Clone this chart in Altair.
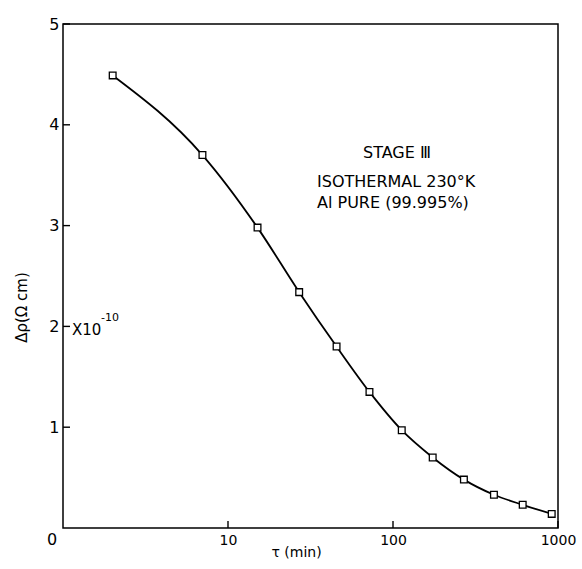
import altair as alt
import pandas as pd

# Data
tau_min = [2.0, 7.0, 15.1, 27.0, 45.5, 72.0, 113, 174, 269, 409, 611, 916]
delta_rho = [4.49, 3.70, 2.98, 2.34, 1.80, 1.35, 0.97, 0.70, 0.48, 0.33, 0.23, 0.14]

x_tick_values = [10, 100, 1000]
y_tick_values = [1, 2, 3, 4, 5]

stage_label = "STAGE Ⅲ"
annotation_line1 = "ISOTHERMAL 230°K"
annotation_line2 = "Al PURE (99.995%)"

FONT = "DejaVu Sans"
W, H = 495, 504

df = pd.DataFrame({"tau": tau_min, "rho": delta_rho})
xt = pd.DataFrame({"t": x_tick_values})
yt = pd.DataFrame({"v": y_tick_values})

xscale = alt.Scale(type="log", domain=[1, 1000], nice=False)
yscale = alt.Scale(domain=[0, 5], nice=False, zero=True)

x_enc = alt.X(
    "tau:Q",
    scale=xscale,
    axis=alt.Axis(
        values=x_tick_values,
        format="d",
        ticks=False,
        domain=False,
        grid=False,
        labelFont=FONT,
        labelFontSize=14,
        labelColor="black",
        labelPadding=5,
        labelFlush=False,
        title="τ (min)",
        titleFont=FONT,
        titleFontSize=14,
        titleFontWeight="normal",
        titleColor="black",
        titleX=233,
        titleY=24,
        titleBaseline="middle",
        titleAlign="center",
    ),
)
y_enc = alt.Y(
    "rho:Q",
    scale=yscale,
    axis=alt.Axis(
        values=y_tick_values,
        format="d",
        ticks=False,
        domain=False,
        grid=False,
        labelFont=FONT,
        labelFontSize=16,
        labelColor="black",
        labelPadding=4,
        title="Δρ(Ω cm)",
        titleFont=FONT,
        titleFontSize=15,
        titleFontWeight="normal",
        titleColor="black",
        titleAngle=270,
        titleX=-42,
        titleY=283,
        titleBaseline="middle",
        titleAlign="center",
    ),
)

line = alt.Chart(df).mark_line(
    color="black", strokeWidth=1.8, interpolate="monotone"
).encode(x=x_enc, y=y_enc)

points = alt.Chart(df).mark_point(
    shape="square", size=45, filled=True, fill="white", stroke="black", strokeWidth=1.3, opacity=1
).encode(x="tau:Q", y="rho:Q")

# inward-pointing tick marks
xticks = alt.Chart(xt).mark_rule(color="black", strokeWidth=1.4, opacity=1).encode(
    x="t:Q", y=alt.value(H - 7), y2=alt.value(H)
)
yticks = alt.Chart(yt).mark_rule(color="black", strokeWidth=1.4, opacity=1).encode(
    y="v:Q", x=alt.value(0), x2=alt.value(7)
)


def label(text, x, y, size, align="left"):
    return alt.Chart(pd.DataFrame({"s": [text]})).mark_text(
        font=FONT, fontSize=size, color="black", align=align, baseline="middle"
    ).encode(text="s:N", x=alt.value(x), y=alt.value(y))


zero_label = label("0", -11, 516, 16, "center")
x10 = label("X10", 9, 306, 15)
exp = label("-10", 38, 294, 11)
stage = label(stage_label, 334, 129, 16, "center")
ann1 = label(annotation_line1, 254, 158, 16)
ann2 = label(annotation_line2, 254, 179, 16)

chart = (
    alt.layer(line, points, xticks, yticks, zero_label, x10, exp, stage, ann1, ann2)
    .properties(
        width=W,
        height=H,
        autosize=alt.AutoSizeParams(type="none"),
        padding={"left": 63, "top": 24, "right": 24, "bottom": 41},
        background="white",
    )
    .configure_view(stroke="black", strokeWidth=1.5)
)

chart.save("out.html", embed_options={"renderer": "svg", "actions": False})
